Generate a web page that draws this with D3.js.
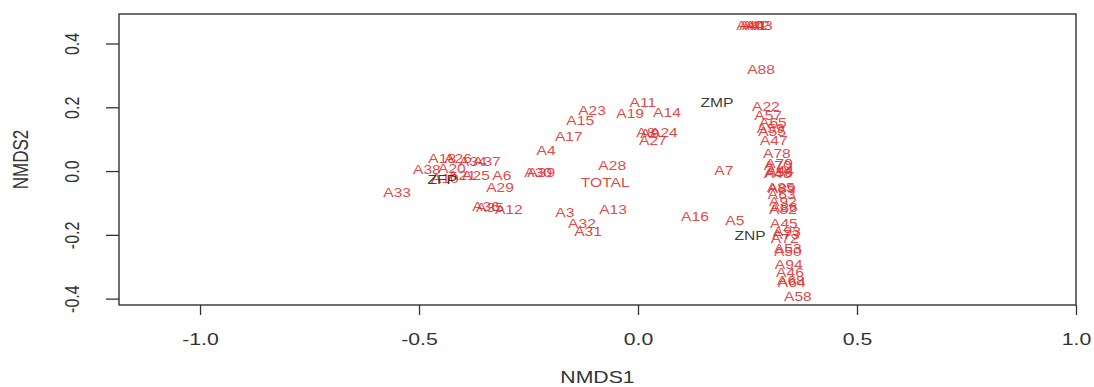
<!DOCTYPE html>
<html>
<head>
<meta charset="utf-8">
<script src="https://cdn.jsdelivr.net/npm/d3@7"></script>
<style>
  body { margin: 0; background: #ffffff; }
  text { font-family: "Liberation Sans", Arial, sans-serif; }
</style>
</head>
<body>
<div id="nmds-chart"></div>
<script>
//sample scores (red labels)
var sampleNames = [
  'A18','A26','A34','A37','A38','A20','A21','A10','A25','A6','A29','A33','A36','A35','A12',
  'A4','A30','A39','A17','A15','A23','A11','A19','A14','A8','A9','A24','A27','A28','TOTAL',
  'A7','A3','A13','A32','A31','A16','A5',
  'A40','A41','A42','A43','A88',
  'A22','A57','A65','A59','A55','A47','A78','A79','A70','A56','A44','A48','A85','A89','A63',
  'A92','A82','A86','A45','A93','A73','A72','A53','A50','A94','A46','A68','A64','A58'
];
var sampleNmds1 = [
  -0.447,-0.411,-0.377,-0.345,-0.482,-0.425,-0.402,-0.441,-0.370,-0.311,-0.315,-0.550,-0.347,-0.338,-0.295,
  -0.210,-0.228,-0.221,-0.158,-0.132,-0.105,0.011,-0.018,0.066,0.018,0.027,0.059,0.034,-0.059,-0.075,
  0.196,-0.167,-0.057,-0.128,-0.114,0.130,0.221,
  0.256,0.263,0.269,0.276,0.281,
  0.292,0.297,0.308,0.303,0.306,0.310,0.317,0.322,0.319,0.322,0.324,0.319,0.326,0.328,0.328,
  0.331,0.331,0.333,0.333,0.340,0.338,0.335,0.342,0.342,0.344,0.347,0.349,0.351,0.365
];
var sampleNmds2 = [
  0.038,0.038,0.031,0.031,0.006,0.009,-0.013,-0.022,-0.013,-0.013,-0.053,-0.066,-0.110,-0.113,-0.119,
  0.063,-0.003,-0.003,0.107,0.157,0.191,0.216,0.179,0.185,0.122,0.119,0.122,0.097,0.016,-0.035,
  0.003,-0.129,-0.119,-0.163,-0.191,-0.144,-0.154,
  0.455,0.455,0.455,0.455,0.317,
  0.201,0.173,0.151,0.135,0.125,0.097,0.056,0.025,0.016,-0.003,0.003,-0.009,-0.050,-0.056,-0.072,
  -0.094,-0.119,-0.113,-0.163,-0.188,-0.198,-0.213,-0.242,-0.251,-0.292,-0.317,-0.342,-0.351,-0.392
];

//site scores (black labels)
var siteNames = ['ZMP','ZNP','ZFP'];
var siteNmds1 = [0.180, 0.256, -0.447];
var siteNmds2 = [0.216, -0.201, -0.025];

//axis ticks
var xTicks = [-1.0, -0.5, 0.0, 0.5, 1.0];
var yTicks = [-0.4, -0.2, 0.0, 0.2, 0.4];

(function(d3) {
  'use strict';

  //Sizes
  var width = 1094;
  var height = 387;
  var plot = {left: 119, right: 1076, top: 14, bottom: 305};
  var stretch = 'scale(1.25,1)'; //picture is wider than tall

  //Colors
  var sampleColor = '#e2302f';
  var siteColor = '#222222';
  var axisColor = '#333333';

  var x = d3.scaleLinear()
  .domain([-1.185, 1.0])
  .range([plot.left, plot.right]);

  var y = d3.scaleLinear()
  .domain([-0.42, 0.4925])
  .range([plot.bottom, plot.top]);

  var svg = d3.select('#nmds-chart').append('svg')
  .attr('width', width)
  .attr('height', height);

  //X axis
  var hAxis = d3.axisBottom(x)
  .tickValues(xTicks)
  .tickSize(10)
  .tickSizeOuter(0)
  .tickFormat(function(d){return d.toFixed(1);});

  var horizontalGuide = svg.append('g')
  .attr('transform', 'translate(0,' + plot.bottom + ')')
  .call(hAxis);
  horizontalGuide.select('.domain').remove();
  horizontalGuide.selectAll('line').attr('stroke', axisColor).attr('stroke-width', 1.3);
  horizontalGuide.selectAll('text')
  .attr('y', null).attr('dy', null)
  .attr('transform', 'translate(0,40) ' + stretch)
  .attr('fill', axisColor)
  .style('font-size', '17px');

  //Y axis
  var vAxis = d3.axisLeft(y)
  .tickValues(yTicks)
  .tickSize(13)
  .tickSizeOuter(0)
  .tickFormat(function(d){return d.toFixed(1);});

  var verticalGuide = svg.append('g')
  .attr('transform', 'translate(' + plot.left + ',0)')
  .call(vAxis);
  verticalGuide.select('.domain').remove();
  verticalGuide.selectAll('line').attr('stroke', axisColor).attr('stroke-width', 1.3);
  verticalGuide.selectAll('text')
  .attr('x', null).attr('dy', null)
  .attr('text-anchor', 'middle')
  .attr('transform', 'translate(-40,0) ' + stretch + ' rotate(-90)')
  .attr('fill', axisColor)
  .style('font-size', '16px');

  //Box
  svg.append('rect')
  .attr('x', plot.left)
  .attr('y', plot.top)
  .attr('width', plot.right - plot.left)
  .attr('height', plot.bottom - plot.top)
  .attr('fill', 'none')
  .attr('stroke', axisColor)
  .attr('stroke-width', 1.4);

  //Axis titles
  svg.append('text')
  .attr('text-anchor', 'middle')
  .attr('transform', 'translate(' + ((plot.left + plot.right) / 2) + ',383) ' + stretch)
  .attr('fill', axisColor)
  .style('font-size', '17px')
  .text('NMDS1');

  svg.append('text')
  .attr('text-anchor', 'middle')
  .attr('transform', 'translate(28,' + ((plot.top + plot.bottom) / 2) + ') ' + stretch + ' rotate(-90)')
  .attr('fill', axisColor)
  .style('font-size', '17px')
  .text('NMDS2');

  //Labels
  var labelLayer = svg.append('g').style('font-size', '12.5px');

  var drawLabels = function(names, xs, ys, color){
    labelLayer.selectAll(null)
    .data(names)
    .enter()
    .append('text')
    .attr('text-anchor', 'middle')
    .attr('dy', '0.36em')
    .attr('transform', function(d, i){
      return 'translate(' + x(xs[i]) + ',' + y(ys[i]) + ') ' + stretch;
    })
    .attr('fill', color)
    .attr('fill-opacity', 0.9)
    .text(function(d){return d;});
  };

  drawLabels(sampleNames, sampleNmds1, sampleNmds2, sampleColor);
  drawLabels(siteNames, siteNmds1, siteNmds2, siteColor);
})(window.d3);
</script>
</body>
</html>
